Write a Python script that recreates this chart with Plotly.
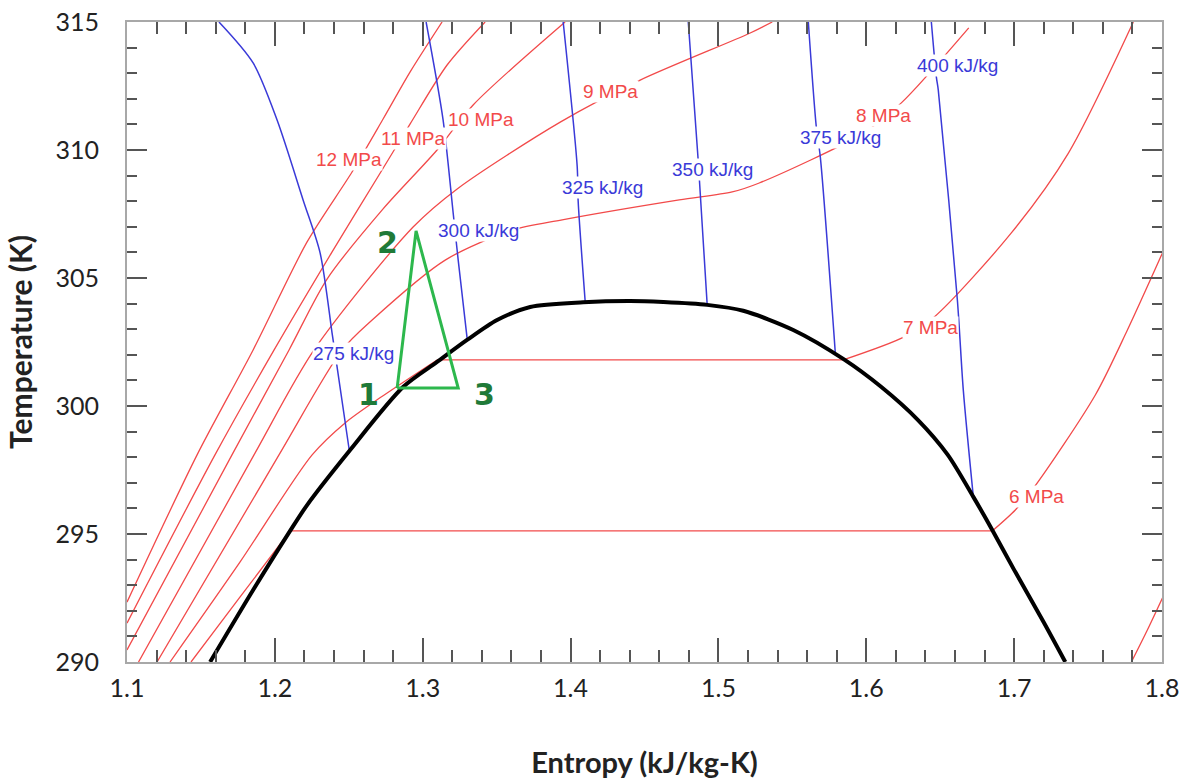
import plotly.graph_objects as go

# ---------------- data (entropy kJ/kg-K, temperature K) ----------------
dome_s = [1.1562, 1.1853, 1.2103, 1.2218, 1.2509, 1.2867, 1.3097, 1.3300, 1.3503, 1.3727,
          1.4085, 1.4403, 1.4627, 1.4924, 1.5168, 1.5506, 1.5844, 1.6100, 1.6350, 1.6550,
          1.6724, 1.6852, 1.7000, 1.7200, 1.7346]
dome_T = [290.0, 292.81, 295.12, 296.13, 298.28, 300.74, 301.72, 302.58, 303.36, 303.87,
          304.05, 304.10, 304.06, 303.95, 303.72, 302.97, 301.84, 300.75, 299.45, 298.10,
          296.45, 295.16, 293.60, 291.55, 290.0]

# isobars
p12_s = [1.1000, 1.1474, 1.1853, 1.2218, 1.2522, 1.2732, 1.2915, 1.3131]
p12_T = [292.34, 298.09, 302.19, 306.41, 309.14, 311.21, 313.05, 315.00]
p11_s = [1.1000, 1.1595, 1.1995, 1.2387, 1.2725, 1.2915, 1.3165, 1.3422]
p11_T = [291.52, 298.09, 302.19, 306.02, 309.22, 311.02, 313.32, 315.00]
p10_s = [1.1000, 1.1710, 1.2096, 1.2353, 1.2732, 1.3097, 1.3341, 1.3963]
p10_T = [290.47, 298.09, 302.19, 304.96, 307.70, 310.00, 311.76, 315.00]
p9_s = [1.1078, 1.1859, 1.2265, 1.2935, 1.3233, 1.3930, 1.4471, 1.5215, 1.5364]
p9_T = [290.00, 298.09, 302.19, 306.99, 308.48, 311.09, 312.73, 314.57, 315.00]
p8_s = [1.1203, 1.2028, 1.2455, 1.2658, 1.3152, 1.3605, 1.3943, 1.4735, 1.5093, 1.5276,
        1.5980, 1.6237, 1.6693]
p8_T = [290.00, 298.09, 302.19, 303.36, 305.70, 306.87, 307.27, 308.05, 308.36, 308.71,
        310.66, 311.84, 314.77]
p7_liq_s = [1.1291, 1.1765, 1.2252, 1.2475, 1.2711, 1.3097]
p7_liq_T = [290.00, 293.91, 298.09, 299.34, 300.32, 301.80]
p7_sat_s = [1.3097, 1.5844]
p7_sat_T = [301.80, 301.80]
p7_vap_s = [1.5844, 1.6257, 1.6460, 1.6981, 1.7367, 1.7806]
p7_vap_T = [301.80, 302.70, 303.48, 306.76, 309.88, 315.00]
p6_liq_s = [1.1433, 1.1765, 1.2103]
p6_liq_T = [290.00, 292.54, 295.12]
p6_sat_s = [1.2103, 1.6852]
p6_sat_T = [295.12, 295.12]
p6_vap_s = [1.6852, 1.7008, 1.7137, 1.7549, 1.7766, 1.8003]
p6_vap_T = [295.12, 295.94, 296.84, 300.43, 302.97, 305.98]
p5_s = [1.7793, 1.7901, 1.8003]
p5_T = [290.00, 291.25, 292.50]

# isenthalps
h275_s = [1.1622, 1.1853, 1.2015, 1.2191, 1.2306, 1.2387, 1.2421, 1.2502]
h275_T = [315.00, 313.40, 311.17, 308.05, 305.98, 302.85, 301.52, 298.32]
h300_s = [1.3023, 1.3138, 1.3206, 1.3240, 1.3300]
h300_T = [315.00, 311.17, 307.54, 305.70, 302.66]
h325_s = [1.3950, 1.4045, 1.4051, 1.4099]
h325_T = [315.00, 309.34, 308.05, 304.06]
h350_s = [1.4796, 1.4863, 1.4924]
h350_T = [315.00, 309.61, 303.95]
h375_s = [1.5608, 1.5662, 1.5689, 1.5790]
h375_T = [315.00, 310.90, 309.73, 302.11]
h400_s = [1.6440, 1.6474, 1.6487, 1.6616, 1.6656, 1.6724]
h400_T = [315.00, 312.85, 312.34, 304.14, 300.63, 296.45]

# cycle 1-2-3
cycle_s = [1.2827, 1.2955, 1.3240, 1.2827]
cycle_T = [300.70, 306.84, 300.70, 300.70]

# labels
p_labels = ["12 MPa", "11 MPa", "10 MPa", "9 MPa", "8 MPa", "7 MPa", "6 MPa"]
p_label_s = [1.2502, 1.2935, 1.3395, 1.4268, 1.6115, 1.6433, 1.7150]
p_label_T = [309.61, 310.43, 311.21, 312.27, 311.36, 303.05, 296.45]
h_labels = ["275 kJ/kg", "300 kJ/kg", "325 kJ/kg", "350 kJ/kg", "375 kJ/kg", "400 kJ/kg"]
h_label_s = [1.2529, 1.3375, 1.4214, 1.4958, 1.5824, 1.6616]
h_label_T = [302.07, 306.875, 308.52, 309.22, 310.47, 313.32]
pt_labels = ["1", "2", "3"]
pt_label_s = [1.2631, 1.2759, 1.3415]
pt_label_T = [300.43, 306.37, 300.43]

x_ticks = [1.1, 1.2, 1.3, 1.4, 1.5, 1.6, 1.7, 1.8]
y_ticks = [290, 295, 300, 305, 310, 315]

RED = "#f24a4a"
BLUE = "#3a3ad8"

fig = go.Figure()

def add(s, T, color, width, shape="spline"):
    fig.add_trace(go.Scatter(x=s, y=T, mode="lines",
                             line=dict(color=color, width=width, shape=shape, smoothing=0.8),
                             hoverinfo="skip", showlegend=False, cliponaxis=True))

for s, T in [(p12_s, p12_T), (p11_s, p11_T), (p10_s, p10_T), (p9_s, p9_T), (p8_s, p8_T),
             (p7_liq_s, p7_liq_T), (p7_vap_s, p7_vap_T), (p6_liq_s, p6_liq_T),
             (p6_vap_s, p6_vap_T), (p5_s, p5_T)]:
    add(s, T, RED, 1.3)
add(p7_sat_s, p7_sat_T, RED, 1.3, "linear")
add(p6_sat_s, p6_sat_T, RED, 1.3, "linear")

for s, T in [(h275_s, h275_T), (h300_s, h300_T), (h325_s, h325_T), (h350_s, h350_T),
             (h375_s, h375_T), (h400_s, h400_T)]:
    add(s, T, BLUE, 1.5)

add(dome_s, dome_T, "black", 4)
add(cycle_s, cycle_T, "#2db84d", 3, "linear")

for t, s, T in zip(p_labels, p_label_s, p_label_T):
    fig.add_annotation(x=s, y=T, text=t, showarrow=False, bgcolor="white", borderpad=0,
                       font=dict(family="Liberation Sans", size=19, color=RED))
for t, s, T in zip(h_labels, h_label_s, h_label_T):
    fig.add_annotation(x=s, y=T, text=t, showarrow=False, bgcolor="white", borderpad=0,
                       font=dict(family="Liberation Sans", size=19, color=BLUE))
for t, s, T in zip(pt_labels, pt_label_s, pt_label_T):
    fig.add_annotation(x=s, y=T, text="<b>" + t + "</b>", showarrow=False,
                       font=dict(family="DejaVu Sans", size=30, color="#1f7a38"))

fig.update_xaxes(range=[1.1, 1.8], tickvals=x_ticks, ticktext=[str(v) for v in x_ticks],
                 ticks="inside", ticklen=24, tickwidth=1.5, tickcolor="#555555",
                 minor=dict(ticks="inside", ticklen=12, dtick=0.02, tick0=1.1,
                            tickcolor="#555555", tickwidth=1.5),
                 showline=True, linecolor="#a8a8a8", linewidth=2, mirror="ticks",
                 showgrid=False, zeroline=False, ticklabelstandoff=3, automargin=False,
                 tickfont=dict(family="Lato", size=25, color="#222222"),
                 title=dict(text="<b>Entropy (kJ/kg-K)</b>", standoff=52,
                            font=dict(family="Lato", size=29, color="#222222")))
fig.update_yaxes(range=[290, 315], tickvals=y_ticks, ticktext=[str(v) for v in y_ticks],
                 ticks="inside", ticklen=20, tickwidth=1.5, tickcolor="#555555",
                 minor=dict(ticks="inside", ticklen=10, dtick=1, tick0=290,
                            tickcolor="#555555", tickwidth=1.5),
                 showline=True, linecolor="#a8a8a8", linewidth=2, mirror="ticks",
                 showgrid=False, zeroline=False, ticklabelstandoff=21, automargin=False,
                 tickfont=dict(family="Lato", size=25, color="#222222"),
                 title=dict(text="<b>Temperature (K)</b>", standoff=14,
                            font=dict(family="Lato", size=30, color="#222222")))

fig.update_layout(width=1190, height=782, margin=dict(l=127, r=28, t=22, b=120),
                  paper_bgcolor="white", plot_bgcolor="white")

fig.write_html("out.html")
